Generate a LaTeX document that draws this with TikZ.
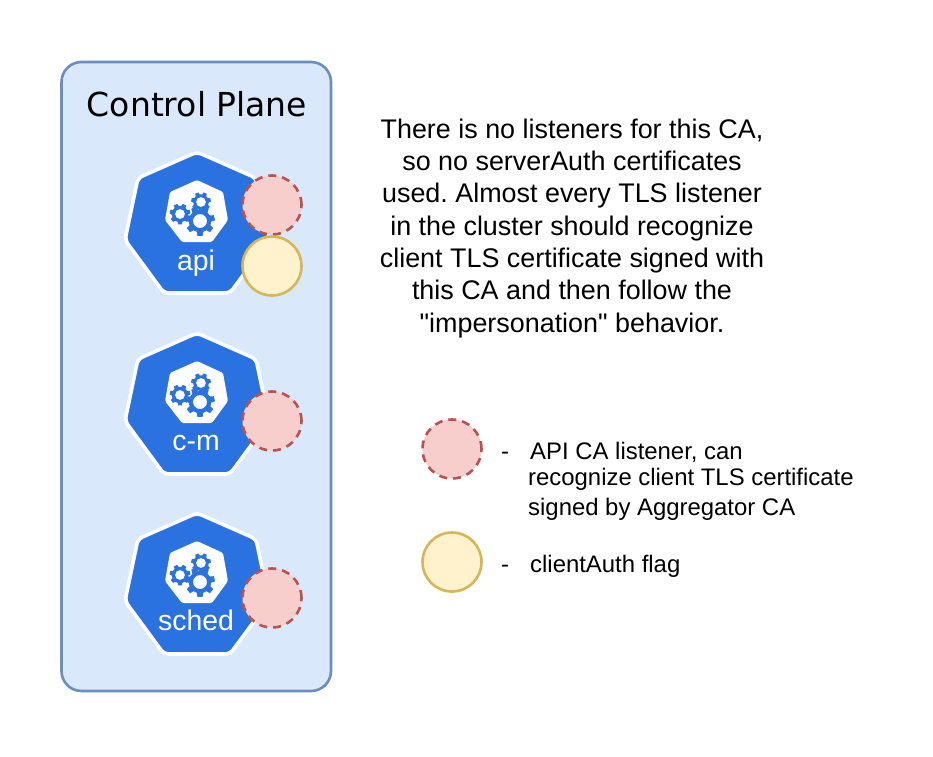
\documentclass[tikz,border=0pt]{standalone}
\usepackage{fontspec}
\setmainfont{Liberation Sans}
\newfontfamily\plainq{Liberation Sans}
\newfontfamily\titlefont{DejaVu Sans}
\definecolor{panelfill}{HTML}{DAE8FC}
\definecolor{panelline}{HTML}{6C8EBF}
\definecolor{kubeblue}{HTML}{2A72E0}
\definecolor{redfill}{HTML}{F8CECC}
\definecolor{redline}{HTML}{B85450}
\definecolor{yelfill}{HTML}{FFF2CC}
\definecolor{yelline}{HTML}{D6B656}
\newcommand{\fs}[1]{\fontsize{#1}{#1}\selectfont}
\tikzset{
  panelbox/.style={draw=panelline,fill=panelfill,line width=2.6pt,rounded corners=20pt},
  listener/.style={circle,minimum size=59pt,inner sep=0pt,fill=redfill,draw=redline,line width=2.6pt,dash pattern=on 8pt off 6pt},
  clientflag/.style={circle,minimum size=59pt,inner sep=0pt,fill=yelfill,draw=yelline,line width=2.6pt},
  kubelabel/.style={text=white,font=\fs{28.4},inner sep=0pt,anchor=base},
  bodytext/.style={align=center,font=\fs{26.9}\plainq\frenchspacing,inner sep=0pt},
  legendtext/.style={align=left,font=\fs{23.9}\frenchspacing,inner sep=0pt,anchor=base west},
}
\newcommand{\gearshape}[5]{% cx cy outer hole root-ratio
  \fill[kubeblue,even odd rule] (#1,#2) ++(90-10:#3)
    \foreach \a in {90,141.43,...,430}{
      -- ($(#1,#2)+(\a-10:#3)$) -- ($(#1,#2)+(\a+10:#3)$)
      -- ($(#1,#2)+(\a+16:#3*#5)$) -- ($(#1,#2)+(\a+35:#3*#5)$)
    } -- cycle
    (#1,#2) circle[radius=#4];
}
\newcommand{\kubeicon}[2]{%
  \begin{scope}[shift={(#1,#2)}]
  \path[fill=kubeblue,draw=white,line width=3.6pt,line join=round,rounded corners=5pt]
     (0,0)--(59,26)--(72,88)--(33,141)--(-33,141)--(-72,88)--(-59,26)--cycle;
  \fill[white,rounded corners=1.5pt]
     (0,28)--(26,40)--(31,68)--(15,90)--(-15,90)--(-32,68)--(-27,40)--cycle;
  \gearshape{4}{50}{10}{5}{0.78}
  \gearshape{-17}{62}{10.5}{5}{0.78}
  \gearshape{3}{69}{15}{7}{0.75}
  \end{scope}
}
\usetikzlibrary{calc}
\begin{document}
\begin{tikzpicture}[x=1pt,y=-1pt]
\useasboundingbox (0,0) rectangle (933,756);
\fill[white] (0,0) rectangle (933,756);
\draw[panelbox] (61.5,62) rectangle (331,691);
\node[inner sep=0pt,font=\fs{33}\titlefont] (title) at (197,104) {Control Plane};
\kubeicon{197}{152}
\kubeicon{197}{333}
\kubeicon{197}{513}
\node[kubelabel] (api) at (196,270.5) {api};
\node[kubelabel] (cm) at (196,450) {c-m};
\node[kubelabel] (sched) at (196,630) {sched};
\node[listener] (l1) at (272,205) {};
\node[clientflag] (f1) at (272,266) {};
\node[listener] (l2) at (272,421) {};
\node[listener] (l3) at (272,598) {};
\node[bodytext] (body) at (572,229.5) {\begin{tabular}{@{}c@{}}There is no listeners for this CA,\\[4.8pt]
so no serverAuth certificates\\[4.8pt]
used. Almost every TLS listener\\[4.8pt]
in the cluster should recognize\\[4.8pt]
client TLS certificate signed with\\[4.8pt]
this CA and then follow the\\[4.8pt]
"impersonation" behavior.\end{tabular}};
\node[listener] (legred) at (452,449) {};
\node[clientflag] (legyel) at (452,562) {};
\node[legendtext] (d1) at (501,459) {-};
\node[legendtext] (t1) at (530,459) {API CA listener, can};
\node[legendtext] (t2) at (528,485) {recognize client TLS certificate};
\node[legendtext] (t3) at (528,515) {signed by Aggregator CA};
\node[legendtext] (d2) at (501,572) {-};
\node[legendtext] (t4) at (530,572) {clientAuth flag};
\end{tikzpicture}
\end{document}
